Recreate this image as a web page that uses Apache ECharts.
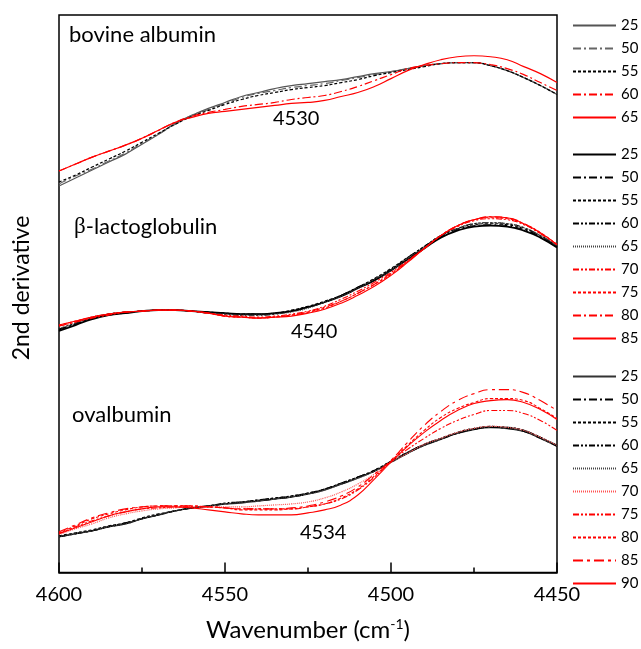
<!DOCTYPE html>
<html>
<head>
<meta charset="utf-8">
<script src="https://cdn.jsdelivr.net/npm/echarts@6/dist/echarts.min.js"></script>
<style>
html,body{margin:0;padding:0;background:#fff;}
#c{width:641px;height:649px;}
</style>
</head>
<body>
<div id="c"></div>
<script>
// Wavenumbers (cm-1), every 5 cm-1
const wavenumbers = [4600,4595,4590,4585,4580,4575,4570,4565,4560,4555,4550,4545,4540,4535,4530,4525,4520,4515,4510,4505,4500,4495,4490,4485,4480,4475,4470,4465,4460,4455,4450];
const xTicks = [4600,4550,4500,4450];

// 2nd derivative (arbitrary units, curves offset per protein) — bovine albumin
const ba25 = [389,397,405,413,421,431,441,452,460,467,473,479,483,487,490,492,494,496,499,502,504,507,510,512,513,513,510,505,498,490,481];
const ba50 = [391,399,406,414,422,432,441,451,460,466,472,478,482,485,488,490,492,495,498,501,504,507,510,512,513,513,510,505,498,490,481];
const ba55 = [393,400,408,416,424,433,442,451,459,465,471,476,480,483,486,488,490,493,496,500,503,506,509,512,513,513,510,505,498,490,481];
const ba60 = [404,411,418,424,430,437,445,453,459,463,466,469,471,473,476,478,480,484,489,495,501,507,510,512,513,513,511,507,501,493,485];
const ba65 = [404,411,418,424,430,437,445,453,458,462,464,466,468,470,472,473,475,479,483,489,497,505,511,516,519,520,519,516,509,502,493];

// beta-lactoglobulin
const bl25 = [243,249,255,259,261,263,264,264,263,262,261,260,260,261,263,267,272,278,286,294,304,315,326,337,344,348,349,348,344,337,327];
const bl50 = [244,250,256,259,261,263,264,264,263,262,261,260,260,261,263,267,272,279,287,295,305,316,327,338,345,349,350,349,345,338,328];
const bl55 = [245,250,256,260,262,263,264,264,263,262,261,260,260,261,264,268,273,279,287,296,306,317,328,339,346,350,351,350,346,339,328];
const bl60 = [245,251,256,260,262,263,264,264,263,261,260,259,259,260,263,267,272,279,287,295,305,317,328,339,346,351,352,351,347,339,329];
const bl65 = [246,251,257,260,262,263,264,264,263,261,260,259,259,260,262,266,272,278,286,295,304,316,327,339,346,351,352,351,347,339,329];
const bl70 = [248,252,256,259,262,263,264,264,263,261,259,258,257,258,260,263,268,275,283,292,302,314,326,339,348,354,356,355,350,341,330];
const bl75 = [249,253,257,260,262,263,264,264,263,261,258,257,256,257,259,262,266,273,281,290,300,313,326,339,349,355,357,356,351,342,330];
const bl80 = [248,252,257,260,262,263,264,264,263,261,258,257,256,257,259,262,267,273,281,290,301,313,326,339,349,355,358,357,351,341,330];
const bl85 = [249,253,257,260,262,263,264,264,263,261,258,257,256,257,258,261,265,271,279,288,299,312,326,339,349,355,358,357,351,342,330];

// ovalbumin
const ov25 = [36,39,42,46,49,54,58,62,65,67,69,70,72,74,76,79,83,89,95,102,111,120,128,134,140,144,146,145,142,135,127];
const ov50 = [36,39,42,46,50,54,58,62,65,67,69,71,72,74,76,79,84,89,96,103,112,121,129,135,140,144,146,145,142,135,127];
const ov55 = [37,40,43,47,50,55,59,62,65,67,69,71,73,75,77,80,84,90,96,103,112,121,129,135,141,145,147,146,143,136,128];
const ov60 = [36,39,42,46,49,54,58,62,65,67,70,71,73,75,77,80,84,90,96,102,111,120,128,134,140,144,146,146,143,136,128];
const ov65 = [36,39,42,46,49,54,58,62,65,67,69,71,72,74,76,79,83,89,95,102,111,120,128,135,141,145,147,146,143,136,128];
const ov70 = [38,44,49,55,59,62,64,65,66,66,66,66,67,68,69,71,75,81,89,99,111,120,129,135,141,145,147,146,143,136,128];
const ov75 = [39,46,52,57,61,64,65,66,66,66,65,64,64,64,64,66,69,74,83,96,112,124,135,145,153,159,163,163,160,153,143];
const ov80 = [40,47,54,59,63,66,67,67,67,66,65,63,63,63,64,66,69,75,84,97,112,128,143,156,165,171,175,175,173,165,155];
const ov85 = [41,48,55,60,64,66,67,67,67,66,65,64,64,64,65,67,71,77,86,99,113,131,148,162,173,180,184,184,181,173,163];
const ov90 = [39,45,51,57,61,64,66,66,65,63,61,59,58,58,58,60,63,68,78,94,111,127,141,153,163,170,173,174,171,164,154];

const RED = '#ff0000';
const DASHDOT = [8,3,2,3];
const DASHDOT2 = [6,2,2,2,2,2];
const DASH = [3,2];
const DOT = [1,1];
const LONGDD = [10,4,3,4];

const groups = [
  {key:'ba', items:[
    ['25', ba25, '#555', 'solid', 1.2],
    ['50', ba50, '#666', DASHDOT, 1.2],
    ['55', ba55, '#000', DASH, 1.2],
    ['60', ba60, RED, DASHDOT, 1.2],
    ['65', ba65, RED, 'solid', 1.2]
  ]},
  {key:'bl', items:[
    ['25', bl25, '#000', 'solid', 1.8],
    ['50', bl50, '#000', DASHDOT, 1.1],
    ['55', bl55, '#000', DASH, 1.1],
    ['60', bl60, '#000', DASHDOT2, 1.1],
    ['65', bl65, '#444', DOT, 1.1],
    ['70', bl70, RED, DASHDOT2, 1.1],
    ['75', bl75, RED, DASH, 1.1],
    ['80', bl80, RED, DASHDOT, 1.1],
    ['85', bl85, RED, 'solid', 1.1]
  ]},
  {key:'ov', items:[
    ['25', ov25, '#333', 'solid', 1.5],
    ['50', ov50, '#000', DASHDOT, 1.1],
    ['55', ov55, '#000', DASH, 1.1],
    ['60', ov60, '#000', DASHDOT2, 1.1],
    ['65', ov65, '#444', DOT, 1.1],
    ['70', ov70, '#f55', DOT, 1.2],
    ['75', ov75, RED, DASHDOT2, 1.1],
    ['80', ov80, RED, DASH, 1.1],
    ['85', ov85, RED, LONGDD, 1.1],
    ['90', ov90, RED, 'solid', 1.1]
  ]}
];

const FONT = 'Lato, "Open Sans", sans-serif';
const series = [];
const legends = [];
const legendTops = [18, 147, 369];
groups.forEach((g, gi) => {
  const names = [];
  g.items.forEach(it => {
    const name = g.key + ' ' + it[0];
    names.push(name);
    series.push({
      name: name,
      type: 'line',
      smooth: 0.5,
      symbol: 'none',
      showSymbol: false,
      silent: true,
      data: wavenumbers.map((w, i) => [w, it[1][i]]),
      lineStyle: {color: it[2], type: it[3], width: it[4]},
      itemStyle: {color: it[2], opacity: 0},
      animation: false
    });
  });
  legends.push({
    data: names,
    orient: 'vertical',
    left: 572,
    top: legendTops[gi],
    padding: 0,
    itemWidth: 43,
    itemHeight: 14,
    itemGap: 8,
    selectedMode: false,
    itemStyle: {opacity: 0},
    textStyle: {fontSize: 15, color: '#000', fontFamily: FONT},
    formatter: n => n.split(' ')[1]
  });
});

const chart = echarts.init(document.getElementById('c'), null, {renderer: 'canvas'});
chart.setOption({
  backgroundColor: '#fff',
  animation: false,
  textStyle: {fontFamily: FONT},
  grid: {left: 59, right: 84, top: 15, bottom: 73, show: true, borderColor: '#000', borderWidth: 1.5, containLabel: false},
  legend: legends,
  xAxis: {
    type: 'value', min: 4450, max: 4600, interval: 50, inverse: true,
    axisLine: {show: true, lineStyle: {color: '#000', width: 1.5}},
    axisTick: {show: true, inside: true, length: 10, lineStyle: {color: '#000', width: 1.5}},
    minorTick: {show: true, splitNumber: 2, length: 5, lineStyle: {color: '#000', width: 1.5}},
    splitLine: {show: false},
    axisLabel: {fontSize: 20, color: '#000', margin: 12, fontFamily: FONT,
      formatter: v => xTicks.indexOf(v) >= 0 ? String(v) : ''},
    name: '{a|Wavenumber (cm}{s|-1}{a|)}',
    nameLocation: 'middle',
    nameGap: 44,
    nameTextStyle: {
      rich: {
        a: {fontSize: 24, color: '#000', fontFamily: FONT, lineHeight: 28},
        s: {fontSize: 14, color: '#000', fontFamily: FONT, lineHeight: 28, padding: [0,0,13,0]}
      }
    }
  },
  yAxis: {
    type: 'value', min: 0, max: 561,
    axisLine: {show: false}, axisTick: {show: false}, axisLabel: {show: false}, splitLine: {show: false}
  },
  graphic: [
    {type: 'text', left: 69, top: 24, style: {text: 'bovine albumin', fontSize: 22, fill: '#000', fontFamily: FONT}},
    {type: 'text', left: 74, top: 215, style: {text: '{g|β}-lactoglobulin', fontSize: 22, fill: '#000', fontFamily: FONT,
      rich: {g: {fontFamily: '"Liberation Serif", serif', fontSize: 23}}}},
    {type: 'text', left: 72, top: 404, style: {text: 'ovalbumin', fontSize: 22, fill: '#000', fontFamily: FONT}},
    {type: 'text', left: 273, top: 109, style: {text: '4530', fontSize: 20, fill: '#000', fontFamily: FONT}},
    {type: 'text', left: 291, top: 322, style: {text: '4540', fontSize: 20, fill: '#000', fontFamily: FONT}},
    {type: 'text', left: 300, top: 523, style: {text: '4534', fontSize: 20, fill: '#000', fontFamily: FONT}},
    {type: 'text', x: 22, y: 288, rotation: Math.PI / 2,
      style: {text: '2nd derivative', fontSize: 23, fill: '#000', fontFamily: FONT, align: 'center', verticalAlign: 'middle'}}
  ],
  series: series
});
</script>
</body>
</html>
